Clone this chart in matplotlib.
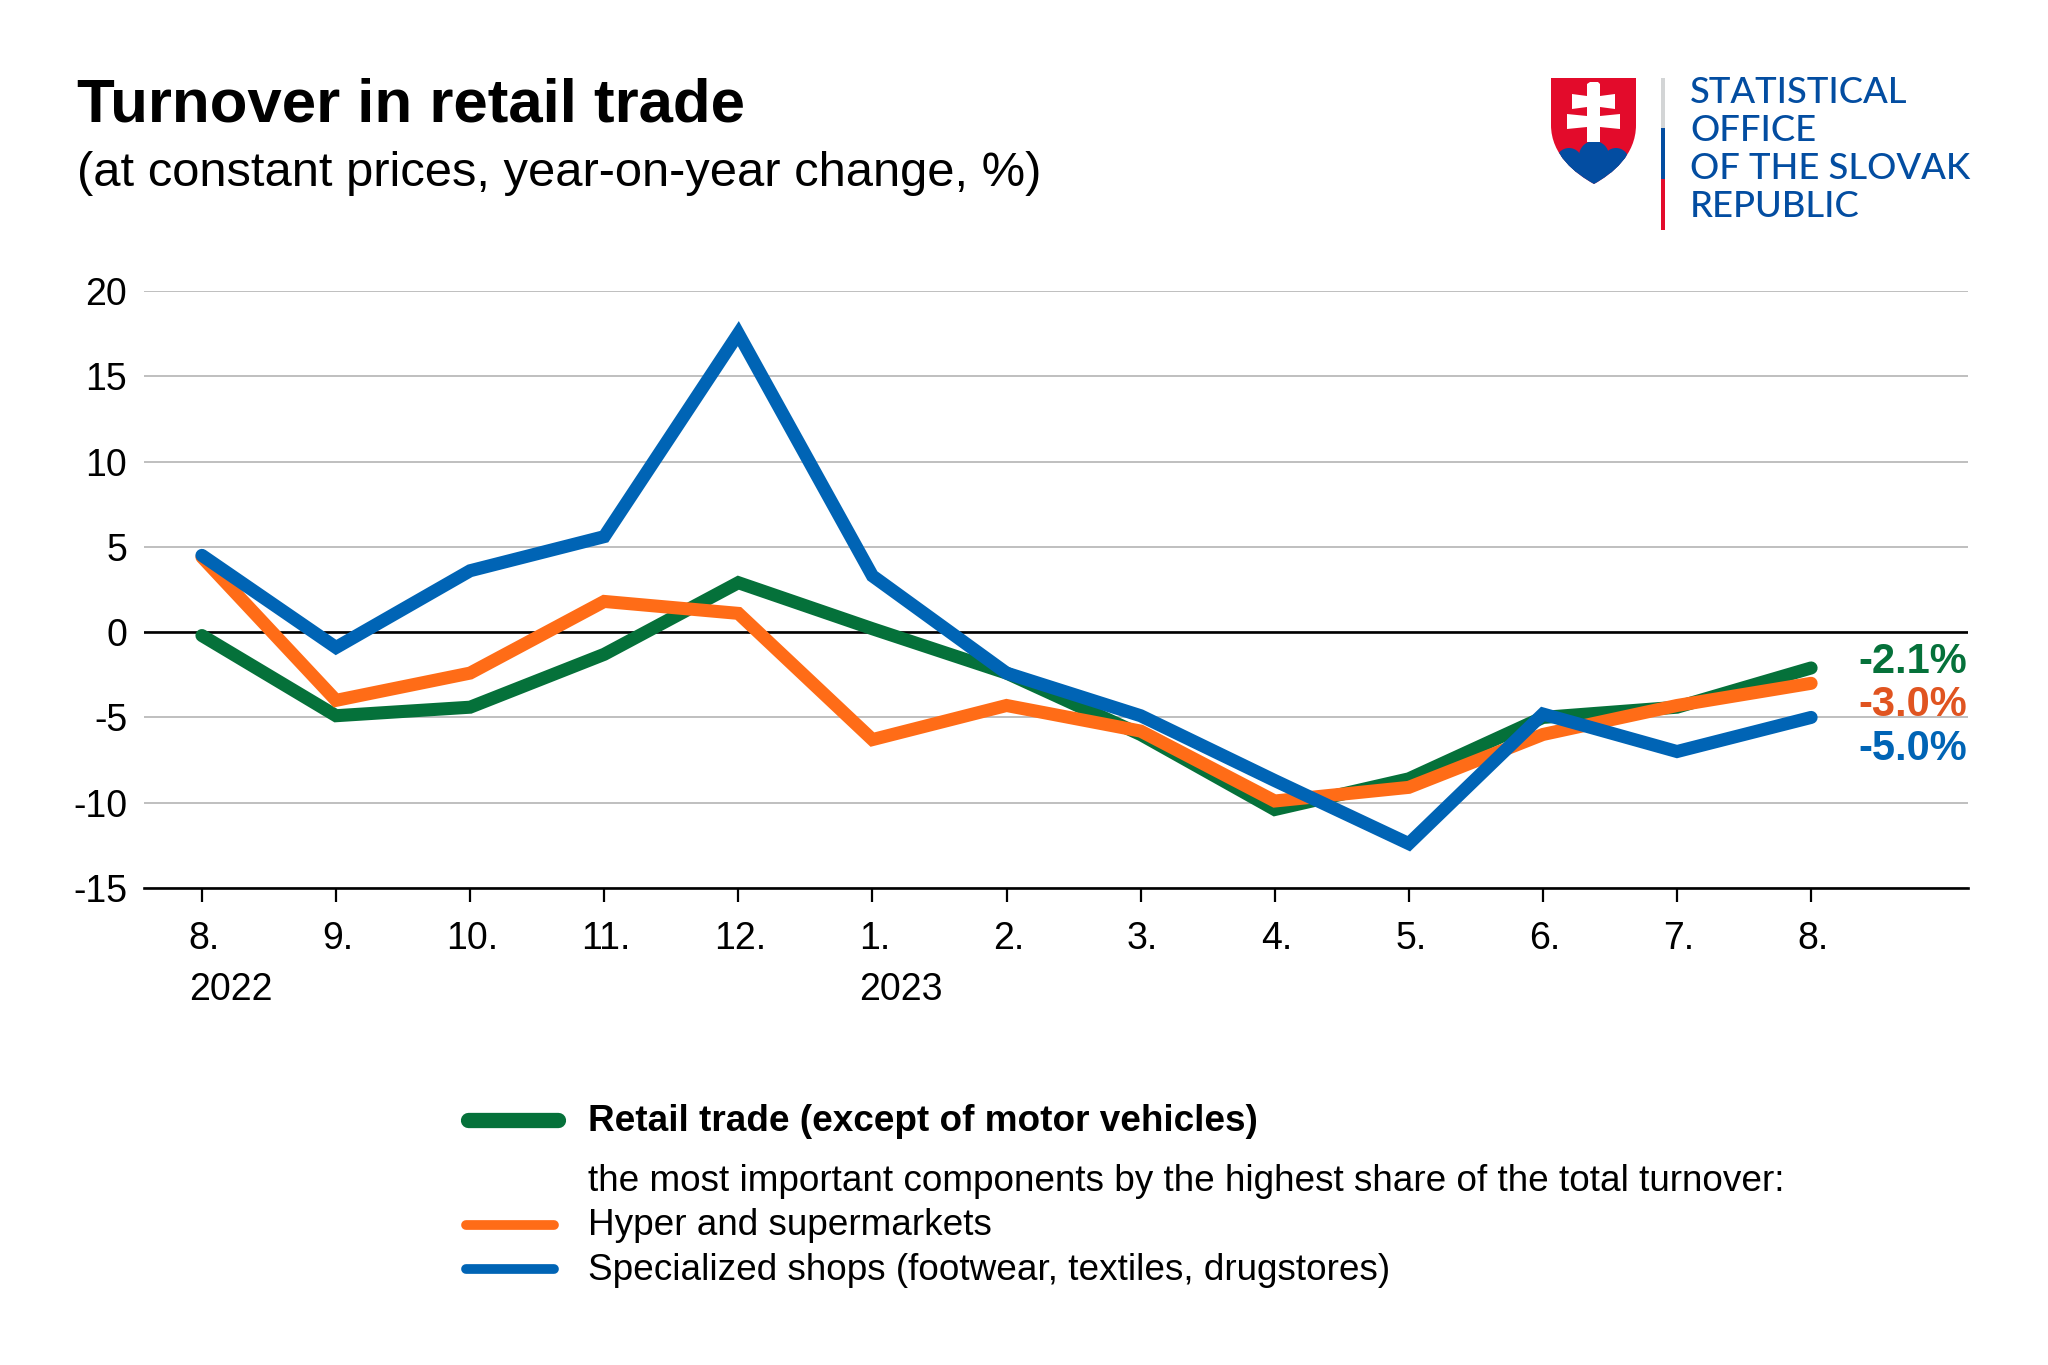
import matplotlib
matplotlib.use("Agg")
import matplotlib.pyplot as plt
from matplotlib.patches import Polygon, PathPatch, Rectangle, Circle
from matplotlib.path import Path
from matplotlib.transforms import ScaledTranslation

plt.rcParams['font.family'] = ['Liberation Sans', 'DejaVu Sans']
plt.rcParams['axes.unicode_minus'] = False

months = ["8.", "9.", "10.", "11.", "12.", "1.", "2.", "3.", "4.", "5.", "6.", "7.", "8."]
years = {0: "2022", 5: "2023"}
retail = [-0.2, -4.9, -4.4, -1.3, 2.9, 0.2, -2.4, -6.0, -10.4, -8.6, -5.0, -4.4, -2.1]
hyper = [4.4, -4.0, -2.4, 1.8, 1.1, -6.3, -4.3, -5.8, -9.9, -9.1, -6.0, -4.3, -3.0]
shops = [4.5, -0.9, 3.6, 5.6, 17.5, 3.3, -2.4, -4.9, -8.7, -12.4, -4.8, -7.0, -5.0]
yticks = [-15, -10, -5, 0, 5, 10, 15, 20]
end_labels = ["-2.1%", "-3.0%", "-5.0%"]

GREEN = "#05713a"
ORANGE = "#ff6c17"
BLUE = "#0064b5"
W, H = 2048, 1365

fig = plt.figure(figsize=(W / 100, H / 100), dpi=100)
ax = fig.add_axes([144 / W, 1 - 888 / H, (1968 - 144) / W, (888 - 291) / H])
ax.set_xlim(-0.432, 13.17)
ax.set_ylim(-15, 20)

for s in ["top", "left", "right"]:
    ax.spines[s].set_visible(False)
ax.spines["bottom"].set_linewidth(1.9)
ax.set_yticks(yticks)
ax.set_xticks(range(len(months)))
ax.set_xticklabels(months)
ax.tick_params(axis="y", length=0, pad=12, labelsize=27)
ax.tick_params(axis="x", length=10, width=1.6, pad=14, labelsize=27)
for lab in ax.get_xticklabels():
    lab.set_transform(lab.get_transform() + ScaledTranslation(2 / 100, 0, fig.dpi_scale_trans))
ax.grid(axis="y", color="#b4b4b4", lw=1.2)
ax.set_axisbelow(True)
ax.axhline(0, color="black", lw=1.9, zorder=2)

x = list(range(len(months)))
ax.plot(x, retail, color=GREEN, lw=9.4, solid_capstyle="round", solid_joinstyle="miter", zorder=3)
ax.plot(x, hyper, color=ORANGE, lw=9.4, solid_capstyle="round", solid_joinstyle="miter", zorder=4)
ax.plot(x, shops, color=BLUE, lw=9.4, solid_capstyle="round", solid_joinstyle="miter", zorder=5)

# overlay in pixel coordinates for title, logo, legend
ov = fig.add_axes([0, 0, 1, 1])
ov.set_xlim(0, W)
ov.set_ylim(H, 0)
ov.axis("off")
ov.patch.set_alpha(0)

ov.text(77, 122, "Turnover in retail trade", fontsize=44.5, fontweight="bold", va="baseline")
ov.text(77, 186, "(at constant prices, year-on-year change, %)", fontsize=35.2, va="baseline")

for i, label in years.items():
    ov.text(202 + i * 134.1 - 13, 1000, label, fontsize=27, va="baseline")

for label, col, yy in zip(end_labels, [GREEN, "#e05420", BLUE], [673, 716, 760]):
    ov.text(1967, yy, label, color=col, fontsize=30, fontweight="bold", ha="right", va="baseline")

# legend
ov.plot([468, 558], [1120, 1120], color=GREEN, lw=11, solid_capstyle="round")
ov.plot([466, 554], [1225, 1225], color=ORANGE, lw=7, solid_capstyle="round")
ov.plot([466, 554], [1269, 1269], color=BLUE, lw=7, solid_capstyle="round")
ov.text(588, 1131, "Retail trade (except of motor vehicles)", fontsize=26.55, fontweight="bold", va="baseline")
ov.text(588, 1191, "the most important components by the highest share of the total turnover:", fontsize=26.55, va="baseline")
ov.text(588, 1235, "Hyper and supermarkets", fontsize=26.55, va="baseline")
ov.text(588, 1280, "Specialized shops (footwear, textiles, drugstores)", fontsize=26.55, va="baseline")

# logo
RED = "#e30b2b"
NAVY = "#034da1"
shield = Path(
    [(1551, 78), (1636, 78), (1636, 125), (1636, 155), (1612, 174), (1594, 184),
     (1576, 174), (1551, 155), (1551, 125), (1551, 78)],
    [Path.MOVETO, Path.LINETO, Path.LINETO, Path.CURVE4, Path.CURVE4, Path.CURVE4,
     Path.CURVE4, Path.CURVE4, Path.CURVE4, Path.CLOSEPOLY])
sp = PathPatch(shield, fc=RED, ec="none", transform=ov.transData)
ov.add_patch(sp)
hill_parts = [Rectangle((1551, 156), 85, 30, fc=NAVY, ec="none"),
              Circle((1569, 161), 13, fc=NAVY, ec="none"),
              Circle((1594, 156), 15, fc=NAVY, ec="none"),
              Circle((1616, 161), 13, fc=NAVY, ec="none")]
for part in hill_parts:
    ov.add_patch(part)
    part.set_clip_path(sp)
ov.add_patch(Polygon([(1590, 82), (1598, 82), (1600, 84), (1600, 96), (1615, 94), (1615, 109), (1600, 107),
                      (1600, 116), (1620, 114), (1620, 129), (1600, 127), (1600, 142), (1587, 142),
                      (1587, 127), (1567, 129), (1567, 114), (1587, 116), (1587, 107), (1572, 109),
                      (1572, 94), (1587, 96), (1587, 84)], closed=True, fc="white", ec="none"))
ov.add_patch(Rectangle((1661, 78), 4, 50, fc="#d3d5d6", ec="none"))
ov.add_patch(Rectangle((1661, 128), 4, 51, fc=NAVY, ec="none"))
ov.add_patch(Rectangle((1661, 179), 4, 51, fc=RED, ec="none"))
for line, yy in zip(["STATISTICAL", "OFFICE", "OF THE SLOVAK", "REPUBLIC"], [103, 141, 179, 217]):
    ov.text(1690, yy, line, color=NAVY, fontsize=26.2, family="Lato", fontweight="medium", va="baseline")

fig.savefig("out.png", dpi=100)
